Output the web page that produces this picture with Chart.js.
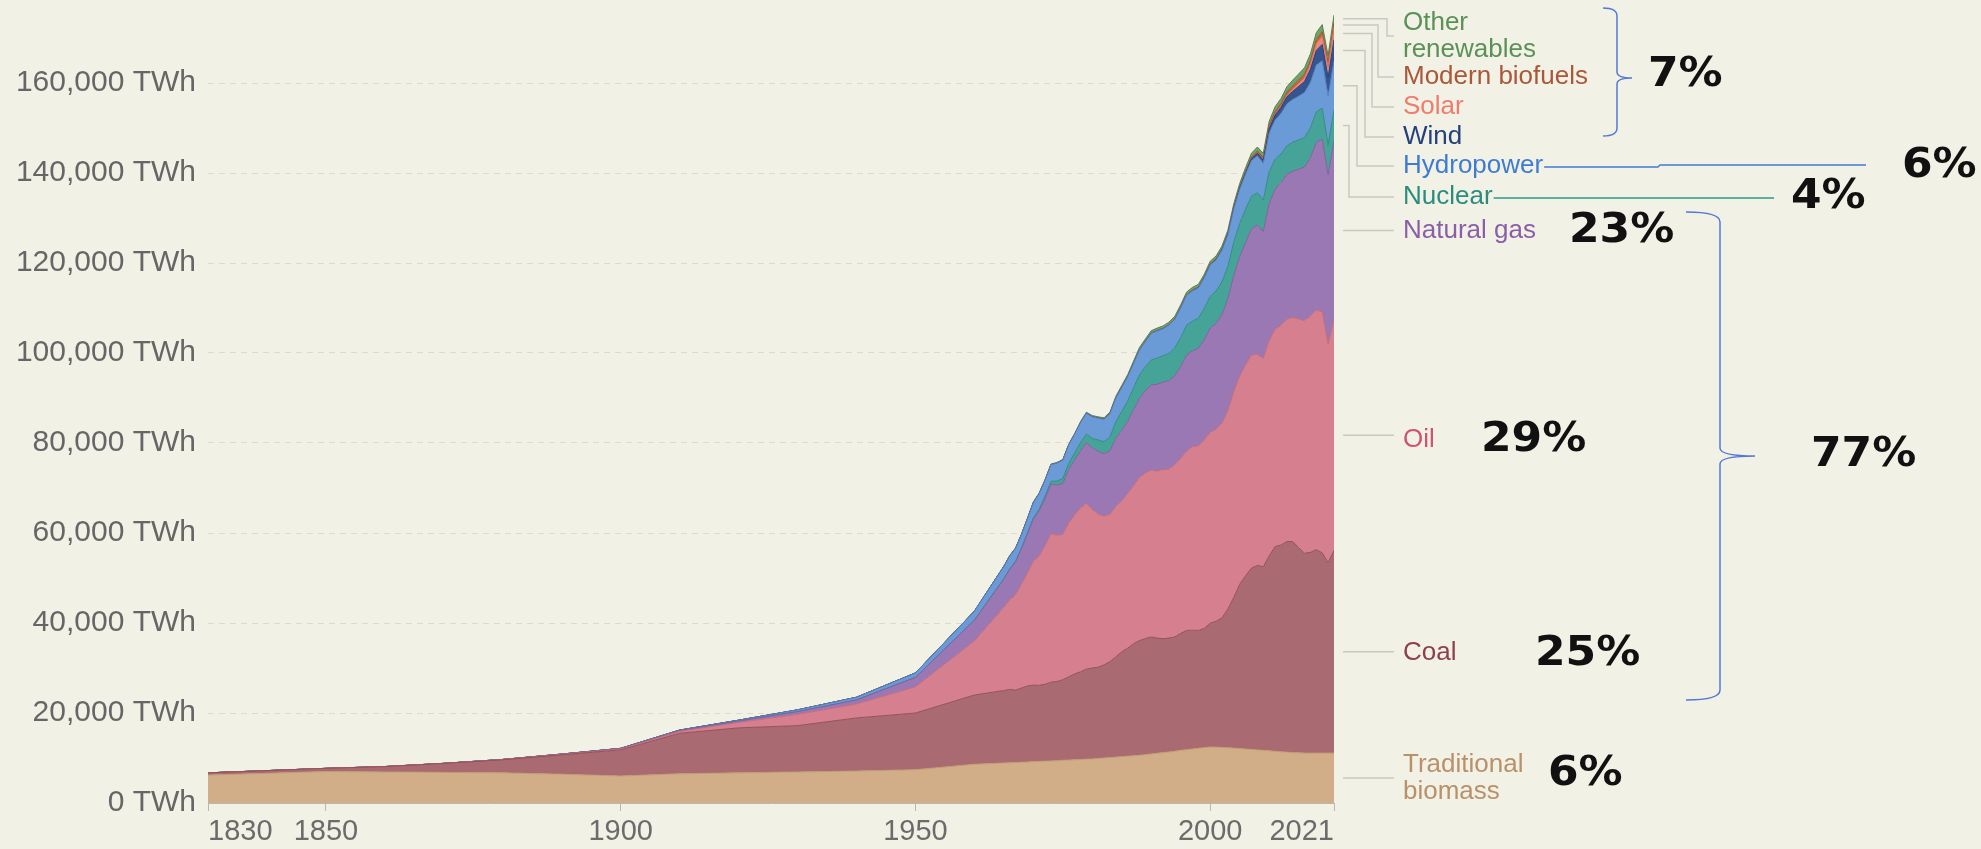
<!DOCTYPE html>
<html>
<head>
<meta charset="utf-8">
<title>Global primary energy consumption by source</title>
<script src="https://cdn.jsdelivr.net/npm/chart.js@4.4.1/dist/chart.umd.min.js"></script>
<style>
  html, body { margin: 0; padding: 0; background: #f2f1e6; }
  #wrap { position: relative; width: 1981px; height: 849px; }
</style>
</head>
<body>
<div id="wrap"><canvas id="energyChart"></canvas></div>
<script>
// years: decades up to 1960, then yearly
const years = [1830, 1840, 1850, 1860, 1870, 1880, 1890, 1900, 1910, 1920, 1930, 1940, 1950, 1960,
  1965, 1966, 1967, 1968, 1969, 1970, 1971, 1972, 1973, 1974,
  1975, 1976, 1977, 1978, 1979, 1980, 1981, 1982, 1983, 1984,
  1985, 1986, 1987, 1988, 1989, 1990, 1991, 1992, 1993, 1994,
  1995, 1996, 1997, 1998, 1999, 2000, 2001, 2002, 2003, 2004,
  2005, 2006, 2007, 2008, 2009, 2010, 2011, 2012, 2013, 2014,
  2015, 2016, 2017, 2018, 2019, 2020, 2021];

// TWh
const tradBiomass = [6200, 6600, 7000, 6900, 6800, 6700, 6400, 6000, 6500, 6700, 6900, 7100, 7400, 8600,
  8900, 8950, 9000, 9050, 9100, 9200, 9250, 9300, 9350, 9400,
  9500, 9550, 9600, 9650, 9750, 9800, 9900, 10000, 10100, 10200,
  10300, 10400, 10500, 10600, 10750, 10900, 11050, 11200, 11350, 11500,
  11700, 11850, 12000, 12150, 12300, 12450, 12400, 12350, 12300, 12200,
  12100, 12000, 11900, 11800, 11700, 11600, 11500, 11400, 11300, 11200,
  11150, 11100, 11100, 11100, 11100, 11100, 11100];
const coal = [500, 600, 700, 1200, 2000, 2900, 4300, 5800, 9000, 10000, 10300, 11800, 12600, 15400,
  16100, 16300, 16100, 16500, 16900, 17000, 16900, 17100, 17500, 17600,
  17900, 18500, 19100, 19500, 20000, 20200, 20300, 20700, 21300, 22300,
  23300, 24000, 24900, 25500, 25800, 26000, 25600, 25300, 25300, 25400,
  26000, 26500, 26400, 26200, 26500, 27500, 28000, 28800, 30800, 33500,
  36500, 38500, 40300, 41000, 40800, 43300, 45500, 45900, 46800, 46900,
  45600, 44400, 44600, 45200, 44500, 42300, 45000];
const oil = [0, 0, 0, 0, 10, 50, 100, 200, 400, 1200, 2500, 3100, 5800, 12000,
  18500, 19900, 21200, 23100, 25100, 27500, 28800, 30800, 33000, 32500,
  32300, 34200, 35300, 36400, 36800, 35200, 34000, 33000, 32800, 33400,
  33500, 34400, 35100, 36200, 36800, 37100, 37100, 37600, 37500, 38300,
  38900, 39800, 40800, 41000, 41900, 42400, 42700, 43200, 44100, 45700,
  46300, 46800, 47300, 46900, 46300, 47800, 48300, 48800, 49400, 49800,
  50800, 51700, 52500, 53200, 53600, 48600, 51200];
const naturalGas = [0, 0, 0, 0, 0, 30, 70, 100, 200, 300, 600, 900, 2100, 4600,
  6300, 6800, 7300, 7900, 8700, 9400, 10000, 10500, 11000, 11200,
  11300, 11900, 12200, 12700, 13500, 13700, 14000, 13900, 14100, 15200,
  15700, 16000, 16900, 17600, 18300, 18900, 19300, 19400, 19700, 19800,
  20400, 21400, 21300, 21700, 22300, 23200, 23500, 24200, 24900, 25800,
  26500, 27200, 28100, 28800, 28200, 30500, 31100, 31800, 32200, 32500,
  33300, 34100, 35200, 37300, 38300, 37600, 39800];
const nuclear = [0, 0, 0, 0, 0, 0, 0, 0, 0, 0, 0, 0, 0, 30,
  70, 100, 120, 150, 190, 250, 350, 480, 640, 820,
  1140, 1310, 1580, 1840, 1910, 2130, 2460, 2680, 3060, 3630,
  4230, 4500, 4870, 5230, 5330, 5550, 5810, 5880, 6060, 6190,
  6430, 6630, 6590, 6680, 6910, 7030, 7190, 7270, 7170, 7420,
  7400, 7450, 7230, 7120, 6960, 7070, 6640, 6300, 6330, 6450,
  6500, 6580, 6620, 6780, 6920, 6640, 6900];
const hydropower = [0, 0, 0, 0, 0, 0, 0, 50, 100, 200, 400, 600, 1000, 2000,
  2700, 2850, 2900, 3000, 3200, 3400, 3500, 3600, 3700, 4000,
  4050, 4100, 4150, 4450, 4650, 4800, 4850, 5000, 5150, 5250,
  5300, 5400, 5400, 5550, 5550, 5900, 6050, 6000, 6300, 6300,
  6600, 6650, 6750, 6750, 6800, 7000, 6900, 7000, 7000, 7400,
  7600, 7800, 7900, 8200, 8200, 8600, 8700, 9000, 9300, 9500,
  9700, 10000, 10100, 10400, 10500, 10900, 10800];
const wind = [0, 0, 0, 0, 0, 0, 0, 0, 0, 0, 0, 0, 0, 0,
  0, 0, 0, 0, 0, 0, 0, 0, 0, 0,
  0, 0, 0, 0, 0, 0, 0, 0, 0, 0,
  0, 0, 0, 0, 0, 10, 12, 14, 18, 22,
  25, 30, 40, 55, 70, 85, 110, 145, 175, 220,
  270, 340, 430, 560, 700, 900, 1120, 1330, 1600, 1800,
  2190, 2470, 2920, 3270, 3650, 4130, 4870];
const solar = [0, 0, 0, 0, 0, 0, 0, 0, 0, 0, 0, 0, 0, 0,
  0, 0, 0, 0, 0, 0, 0, 0, 0, 0,
  0, 0, 0, 0, 0, 0, 0, 0, 0, 0,
  0, 0, 0, 0, 0, 1, 1, 1, 1, 1,
  1, 1, 2, 2, 2, 3, 3, 4, 5, 7,
  10, 15, 20, 35, 55, 90, 170, 260, 360, 500,
  660, 860, 1150, 1480, 1810, 2220, 2700];
const modernBiofuels = [0, 0, 0, 0, 0, 0, 0, 0, 0, 0, 0, 0, 0, 0,
  0, 0, 0, 0, 0, 0, 0, 0, 0, 0,
  0, 0, 0, 0, 0, 20, 30, 40, 50, 60,
  70, 80, 85, 90, 95, 100, 100, 100, 100, 105,
  110, 110, 115, 115, 115, 120, 130, 150, 180, 200,
  230, 300, 380, 480, 530, 600, 610, 620, 680, 740,
  780, 800, 850, 950, 1020, 950, 1040];
const otherRenewables = [0, 0, 0, 0, 0, 0, 0, 0, 0, 0, 0, 0, 0, 0,
  100, 105, 110, 115, 120, 130, 135, 145, 150, 160,
  170, 180, 195, 210, 230, 250, 270, 290, 320, 350,
  380, 400, 430, 450, 480, 500, 510, 520, 530, 545,
  560, 575, 590, 600, 610, 620, 630, 650, 670, 700,
  740, 780, 830, 880, 930, 1000, 1060, 1120, 1180, 1250,
  1320, 1380, 1440, 1510, 1580, 1650, 1710];

const seriesNames = ['Traditional biomass', 'Coal', 'Oil', 'Natural gas', 'Nuclear', 'Hydropower', 'Wind', 'Solar', 'Modern biofuels', 'Other renewables'];
const seriesValues = [tradBiomass, coal, oil, naturalGas, nuclear, hydropower, wind, solar, modernBiofuels, otherRenewables];
const xTicks = [1830, 1850, 1900, 1950, 2000, 2021];
const yTicks = [0, 20000, 40000, 60000, 80000, 100000, 120000, 140000, 160000];
const shareLabels = ['6%', '25%', '29%', '23%', '4%', '6%', '7%', '77%'];

document.addEventListener('DOMContentLoaded', function () {
  const canvas = document.getElementById('energyChart');

  const fills = ['#d2ae88', '#a96a71', '#d6808f', '#9978b4', '#45a497', '#6b9bd6', '#36548d', '#f1897a', '#b8693f', '#6fa46b'];
  const borders = ['#bf9a72', '#955059', '#c56a7a', '#80609d', '#2f8c80', '#527fbf', '#25407a', '#d86f60', '#9c5430', '#56804f'];
  const textColors = ['#b8916a', '#8d3f4c', '#cc5670', '#8a5fa8', '#2b8c7e', '#3f7bd1', '#25407a', '#ef7c6c', '#a9583a', '#5b9157'];

  // label boxes on the right (centre y, elbow x of the connector)
  const labelLines = [['Traditional', 'biomass'], ['Coal'], ['Oil'], ['Natural gas'], ['Nuclear'], ['Hydropower'], ['Wind'], ['Solar'], ['Modern biofuels'], ['Other', 'renewables']];
  const labelY = [778, 653, 440, 231, 197, 166, 137, 107, 77, 36];
  const elbowX = [null, null, null, null, 1349, 1357, 1365, 1372, 1378, 1387];
  const labelX = 1403;
  const sharePos = [[1548, 775], [1535, 655], [1481, 441], [1569, 232], [1791, 198], [1902, 167], [1648, 76], [1811, 456]];

  const xTickFont = { family: "'Liberation Sans', Arial, sans-serif", size: 29 };
  const yTickFont = { family: "'Liberation Sans', Arial, sans-serif", size: 30 };

  const datasets = seriesValues.map(function (vals, i) {
    return {
      label: seriesNames[i],
      data: years.map((yr, j) => ({ x: yr, y: vals[j] })),
      backgroundColor: fills[i],
      borderColor: borders[i],
      borderWidth: 1,
      fill: i === 0 ? 'origin' : '-1',
      pointRadius: 0,
      tension: 0
    };
  });

  const annotations = {
    id: 'annotations',
    afterDraw(chart) {
      const ctx = chart.ctx;
      const area = chart.chartArea;
      const yScale = chart.scales.y;
      const last = years.length - 1;
      ctx.save();

      // connectors from the band middles to the labels
      let base = 0;
      ctx.strokeStyle = '#c9c9c2';
      ctx.lineWidth = 1.5;
      seriesValues.forEach(function (vals, i) {
        const mid = yScale.getPixelForValue(base + vals[last] / 2);
        base += vals[last];
        const x0 = area.right + 9;
        const x1 = labelX - 9;
        ctx.beginPath();
        ctx.moveTo(x0, mid);
        if (elbowX[i] === null) {
          ctx.lineTo(x1, mid);
        } else {
          ctx.lineTo(elbowX[i], mid);
          ctx.lineTo(elbowX[i], labelY[i]);
          ctx.lineTo(x1, labelY[i]);
        }
        ctx.stroke();
      });

      // series labels
      ctx.font = "26px 'Liberation Sans', Arial, sans-serif";
      ctx.textAlign = 'left';
      ctx.textBaseline = 'middle';
      labelLines.forEach(function (lines, i) {
        ctx.fillStyle = textColors[i];
        const top = labelY[i] - (lines.length - 1) * 13.5;
        lines.forEach((t, k) => ctx.fillText(t, labelX, top + k * 27));
      });

      // leader lines for hydropower and nuclear shares
      const hydroEnd = labelX + ctx.measureText('Hydropower').width + 1;
      const nucEnd = labelX + ctx.measureText('Nuclear').width + 1;
      ctx.lineWidth = 1.3;
      ctx.strokeStyle = '#3f7bd1';
      ctx.beginPath();
      ctx.moveTo(hydroEnd, 167);
      ctx.lineTo(1658, 167);
      ctx.lineTo(1660, 165);
      ctx.lineTo(1866, 165);
      ctx.stroke();
      ctx.strokeStyle = '#2b9a88';
      ctx.beginPath();
      ctx.moveTo(nucEnd, 198);
      ctx.lineTo(1774, 198);
      ctx.stroke();

      // curly brackets
      ctx.strokeStyle = '#5479d4';
      ctx.lineWidth = 1.5;
      ctx.beginPath();
      ctx.moveTo(1603, 8);
      ctx.quadraticCurveTo(1617, 8, 1617, 16);
      ctx.lineTo(1617, 72);
      ctx.quadraticCurveTo(1617, 78, 1632, 78);
      ctx.quadraticCurveTo(1617, 78, 1617, 84);
      ctx.lineTo(1617, 128);
      ctx.quadraticCurveTo(1617, 136, 1603, 136);
      ctx.stroke();
      ctx.beginPath();
      ctx.moveTo(1686, 212);
      ctx.quadraticCurveTo(1720, 212, 1720, 222);
      ctx.lineTo(1720, 448);
      ctx.quadraticCurveTo(1720, 456, 1755, 456);
      ctx.quadraticCurveTo(1720, 456, 1720, 464);
      ctx.lineTo(1720, 690);
      ctx.quadraticCurveTo(1720, 700, 1686, 700);
      ctx.stroke();

      // share percentages
      ctx.fillStyle = '#111111';
      ctx.font = "bold 40px 'DejaVu Sans', sans-serif";
      shareLabels.forEach(function (t, i) {
        ctx.save();
        ctx.translate(sharePos[i][0], sharePos[i][1]);
        ctx.scale(1.1, 1);
        ctx.fillText(t, 0, 0);
        ctx.restore();
      });
      ctx.restore();
    }
  };

  new Chart(canvas, {
    type: 'line',
    data: { datasets: datasets },
    options: {
      responsive: true,
      maintainAspectRatio: false,
      animation: false,
      layout: { padding: { left: 0, right: 647, top: 11, bottom: 0 } },
      plugins: { legend: { display: false }, tooltip: { enabled: false } },
      scales: {
        x: {
          type: 'linear',
          min: 1830,
          max: 2021,
          z: 1,
          afterBuildTicks: s => { s.ticks = xTicks.map(v => ({ value: v })); },
          afterFit: s => { s.height = 46; s.paddingLeft = 0; s.paddingRight = 0; },
          grid: { display: true, drawOnChartArea: false, drawTicks: true, tickLength: 8, color: '#b8b8b2' },
          border: { display: true, color: '#b8b8b2' },
          ticks: { align: 'inner', padding: 4, color: '#6b6b6b', font: xTickFont, maxRotation: 0, autoSkip: false, callback: v => String(v) }
        },
        y: {
          type: 'linear',
          stacked: true,
          min: 0,
          max: 176000,
          z: 1,
          afterBuildTicks: s => { s.ticks = yTicks.map(v => ({ value: v })); },
          afterFit: s => { s.width = 208; s.paddingTop = 0; s.paddingBottom = 0; },
          grid: {
            drawTicks: false,
            color: c => (c.tick && c.tick.value === 0) ? 'rgba(0,0,0,0)' : 'rgba(140,140,128,0.22)'
          },
          border: { display: false, dash: [6, 5] },
          ticks: { padding: 12, color: '#666666', font: yTickFont, callback: v => v.toLocaleString('en-US') + ' TWh' }
        }
      }
    },
    plugins: [annotations]
  });
});
</script>
</body>
</html>
